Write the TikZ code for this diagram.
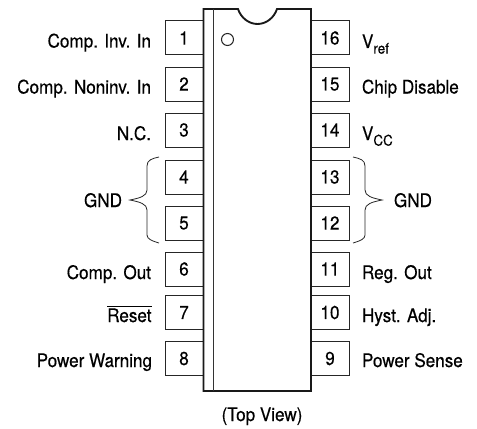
\documentclass[tikz,border=0pt]{standalone}
\usepackage{fontspec}
\setmainfont[FakeStretch=0.915,FakeBold=0.4]{TeX Gyre Heros}
\newcommand{\labfont}{\fontsize{14}{16}\selectfont}
\newcommand{\subfont}{\fontsize{11}{13}\selectfont}
\tikzset{
  x=0.75pt,y=-0.75pt,
  pinbox/.style={draw=black!85,line width=0.75pt,minimum width=28.5pt,minimum height=25.5pt,inner sep=0pt,outer sep=0pt,font=\labfont,text=black},
  lab/.style={inner sep=0pt,outer sep=0pt,font=\labfont,text=black},
  brace/.style={draw=black!85,line width=0.6pt},
}
\begin{document}
\begin{tikzpicture}
\useasboundingbox (0,0) rectangle (477,428);
\fill[white] (0,0) rectangle (477,428);
% pins
\foreach \n/\y in {1/38,2/84,3/130,4/177,5/223,6/269,7/312.5,8/358.5}{
  \node[pinbox] (p\n) at (184,\y) {\n};
}
\foreach \n/\y in {16/38,15/84,14/130,13/177,12/223,11/269,10/312.5,9/358.5}{
  \node[pinbox] (p\n) at (330,\y) {\n};
}
% body
\draw[line width=1.4pt,black!90] (203.5,9) -- (238,9) .. controls (241,18) and (249,24) .. (257.5,24)
   .. controls (266,24) and (274,18) .. (277,9)
   -- (311,9) -- (311,391) -- (203.5,391) -- cycle;
\draw[line width=0.75pt,black!80] (213.5,9) -- (213.5,391);
\node[draw=black!85,circle,line width=0.75pt,minimum size=9pt,inner sep=0pt] (dot) at (227.5,39.5) {};
% left labels
\node[lab,anchor=base east] (l1) at (151,47.5) {Comp. Inv. In};
\node[lab,anchor=base east] (l2) at (151,93.5) {Comp. Noninv. In};
\node[lab,anchor=base east] (l3) at (151,140) {N.C.};
\node[lab,anchor=base east] (l6) at (151,279) {Comp. Out};
\node[lab,anchor=base east] (l7) at (151.5,322) {$\overline{\mbox{\labfont Reset}}$};
\node[lab,anchor=base east] (l8) at (152,367) {Power Warning};
\node[lab,anchor=base east] (lg) at (122,207) {GND};
% right labels
\node[lab,anchor=base west] (r16) at (362,48) {V\raisebox{-0.3em}{\subfont ref}};
\node[lab,anchor=base west] (r15) at (362,93.5) {Chip Disable};
\node[lab,anchor=base west] (r14) at (362,140) {V\raisebox{-0.3em}{\subfont CC}};
\node[lab,anchor=base west] (r11) at (362,279) {Reg. Out};
\node[lab,anchor=base west] (r10) at (362,322) {Hyst. Adj.};
\node[lab,anchor=base west] (r9) at (362,367) {Power Sense};
\node[lab,anchor=base west] (rg) at (394,207) {GND};
\node[lab,anchor=base] (tv) at (262,421) {(Top View)};
% braces
\coordinate (la) at (159,157);
\coordinate (lb) at (159,243);
\coordinate (lm) at (130,200);
\draw[brace] (la) .. controls (152,158.5) and (147,160) .. (147,166) -- (147,190)
  .. controls (147,196) and (140,198) .. (lm) .. controls (140,202) and (147,204) .. (147,210) -- (147,235)
  .. controls (147,239) and (152,241) .. (lb);
\coordinate (ra) at (353,157);
\coordinate (rb) at (353,243);
\coordinate (rm) at (382,200);
\draw[brace] (ra) .. controls (360,158.5) and (365,160) .. (365,166) -- (365,190)
  .. controls (365,196) and (372,198) .. (rm) .. controls (372,202) and (365,204) .. (365,210) -- (365,235)
  .. controls (365,239) and (360,241) .. (rb);
\end{tikzpicture}
\end{document}
